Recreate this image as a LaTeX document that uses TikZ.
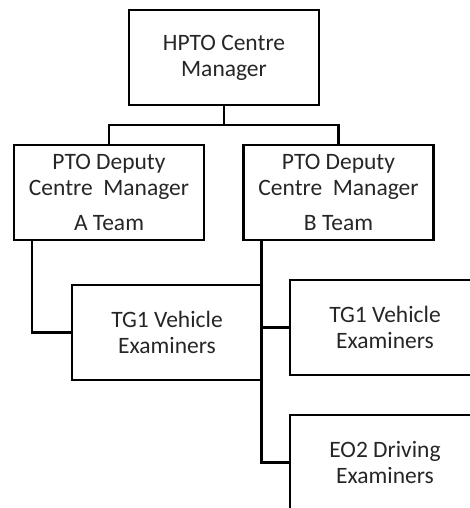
\documentclass[tikz,border=0pt]{standalone}
\usepackage{fontspec}
\setmainfont{Carlito}
\begin{document}
\begin{tikzpicture}[x=1pt,y=1pt,
  box/.style={draw=black, line width=2.4pt, rectangle, minimum width=190pt, minimum height=95pt,
    inner sep=0pt, align=center, font=\fontsize{23.5}{26}\selectfont, text=black!85},
  link/.style={draw=black, line width=2.4pt}]
\useasboundingbox (0,0) rectangle (470,-508);
\clip (0,0) rectangle (470,-508);
\node[box] (top) at (224,-57.5) {HPTO Centre\\Manager};
\node[box] (a) at (109,-192.5) {PTO Deputy\\Centre\ \ Manager\\[9pt]A Team};
\node[box] (b) at (338.5,-192.5) {PTO Deputy\\Centre\ \ Manager\\[9pt]B Team};
\node[box] (mid) at (167,-332.5) {TG1 Vehicle\\Examiners};
\node[box] (r1) at (385,-327.5) {TG1 Vehicle\\Examiners};
\node[box] (r2) at (385,-462.5) {EO2 Driving\\Examiners};
\coordinate (bar) at (224,-125);
\draw[link] (top.south) -- (bar);
\draw[link] (bar) -| (a.north);
\draw[link] (bar) -| (b.north);
\draw[link] ([xshift=19pt]a.south west) |- (mid.west);
\draw[link] ([xshift=19pt]b.south west) |- (r1.west);
\draw[link] ([xshift=19pt]b.south west) |- (r2.west);
\end{tikzpicture}
\end{document}
